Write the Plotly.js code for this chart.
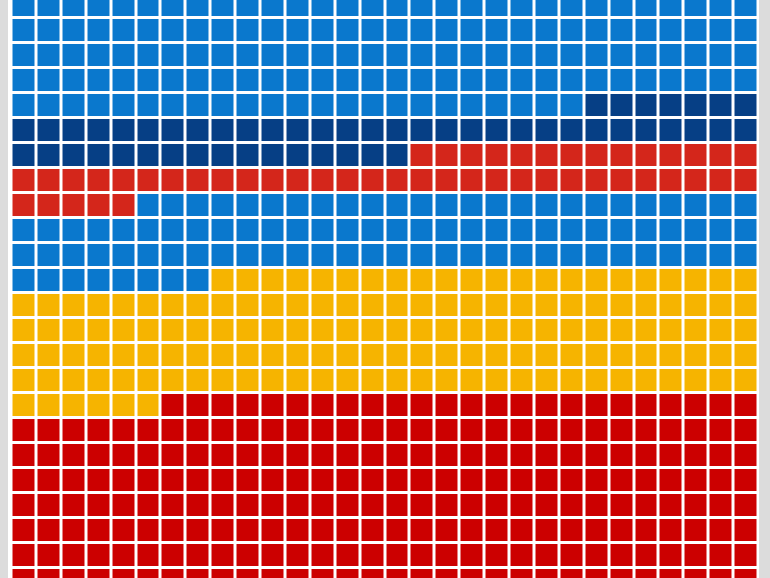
<!DOCTYPE html>
<html>
<head>
<meta charset="utf-8">
<script src="https://cdn.plot.ly/plotly-3.0.1.min.js"></script>
<style>html,body{margin:0;padding:0;background:#dcdcdc;}#chart{width:770px;height:578px;}</style>
</head>
<body>
<div id="chart"></div>
<script>
// Waffle data: blocks in fill order (top-down, left-to-right), 30 cells per row
const groups = ['Blue (upper)', 'Navy', 'Red-orange', 'Blue (lower)', 'Yellow', 'Red'];
const counts = [143, 53, 49, 93, 148, 234];
const colors = ['#0a78cd', '#063f85', '#d4261b', '#0a78cd', '#f6b400', '#cc0000'];
const nCols = 30;

const total = counts.reduce((a, b) => a + b, 0);
const nRows = Math.ceil(total / nCols);
const z = [];
const text = [];
for (let r = 0; r < nRows; r++) { z.push(new Array(nCols).fill(null)); text.push(new Array(nCols).fill('')); }
let k = 0;
counts.forEach((c, gi) => {
  for (let i = 0; i < c; i++) {
    const r = Math.floor(k / nCols), col = k % nCols;
    z[r][col] = gi; text[r][col] = groups[gi];
    k++;
  }
});
const n = groups.length;
const colorscale = [];
colors.forEach((c, i) => { colorscale.push([i / n, c]); colorscale.push([(i + 1) / n, c]); });

const xs = Array.from({length: nCols}, (_, i) => i);
const ys = Array.from({length: nRows}, (_, i) => i);

Plotly.newPlot('chart', [{
  type: 'heatmap',
  x: xs, y: ys, z: z, text: text,
  zmin: -0.5, zmax: n - 0.5,
  colorscale: colorscale,
  showscale: false,
  xgap: 3, ygap: 3,
  hoverinfo: 'text'
}], {
  width: 770, height: 578,
  margin: {l: 8, r: 11, t: 0, b: 0, pad: 0},
  paper_bgcolor: '#dcdcdc',
  plot_bgcolor: '#ffffff',
  xaxis: {range: [-0.64, 29.52], visible: false, fixedrange: true},
  yaxis: {range: [22.9, -0.22], visible: false, fixedrange: true},
  showlegend: false
}, {displayModeBar: false, staticPlot: true});
</script>
</body>
</html>
